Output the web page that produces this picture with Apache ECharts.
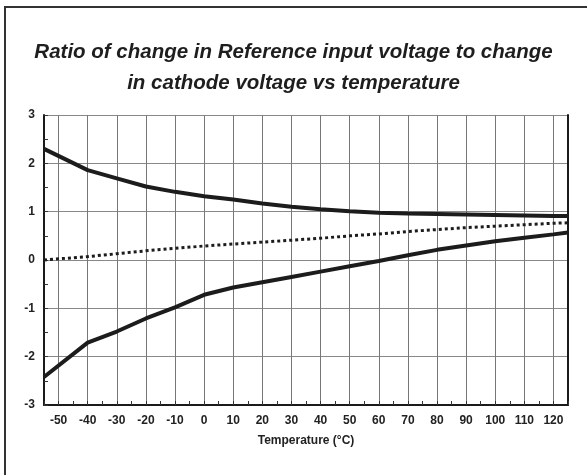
<!DOCTYPE html>
<html>
<head>
<meta charset="utf-8">
<script src="https://cdn.jsdelivr.net/npm/echarts@6/dist/echarts.min.js"></script>
<style>
  html, body { margin: 0; padding: 0; background: #fff; }
  #chart { width: 587px; height: 475px; }
</style>
</head>
<body>
<div id="chart"></div>
<script>
// temperature points (°C)
const temperatures = [-55, -40, -30, -20, -10, 0, 10, 20, 30, 40, 50, 60, 70, 80, 90, 100, 110, 120, 125];
// upper limit curve
const upperRatio = [2.30, 1.86, 1.69, 1.52, 1.41, 1.32, 1.25, 1.17, 1.10, 1.05, 1.01, 0.98, 0.96, 0.95, 0.94, 0.93, 0.92, 0.91, 0.91];
// typical (dotted)
const typicalRatio = [0.00, 0.07, 0.13, 0.19, 0.24, 0.29, 0.33, 0.37, 0.41, 0.45, 0.50, 0.54, 0.59, 0.63, 0.67, 0.70, 0.73, 0.76, 0.77];
// lower limit curve
const lowerRatio = [-2.42, -1.71, -1.48, -1.21, -0.98, -0.72, -0.57, -0.46, -0.35, -0.24, -0.13, -0.02, 0.10, 0.21, 0.30, 0.39, 0.46, 0.53, 0.57];

const titleLines = [
  'Ratio of change in Reference input voltage to change',
  'in cathode voltage vs temperature'
];

const font = 'Liberation Sans, Arial, sans-serif';

function pairs(ys) {
  return temperatures.map((t, i) => [t, ys[i]]);
}

const chart = echarts.init(document.getElementById('chart'));

const titleStyle = {
  fontFamily: font,
  fontSize: 20.5,
  fontWeight: 'bold',
  fontStyle: 'italic',
  color: '#1e1e1e'
};

const labelStyle = { fontFamily: font, fontSize: 12, fontWeight: 'bold', color: '#222' };

const option = {
  animation: false,
  backgroundColor: '#fff',
  title: titleLines.map((t, i) => ({
    text: t,
    left: 'center',
    top: 42 + i * 31,
    padding: 0,
    textStyle: titleStyle
  })),
  graphic: [
    {
      type: 'rect',
      shape: { x: 5, y: 7, width: 620, height: 520 },
      style: { fill: 'none', stroke: '#333', lineWidth: 2 },
      silent: true
    }
  ],
  grid: { left: 44, right: 19, top: 115, bottom: 70 },
  xAxis: {
    type: 'value',
    min: -55,
    max: 125,
    interval: 5,
    name: 'Temperature (°C)',
    nameLocation: 'middle',
    nameGap: 30,
    nameTextStyle: labelStyle,
    axisLine: { onZero: false, lineStyle: { color: '#1a1a1a', width: 2 } },
    axisTick: { inside: true, length: 4, lineStyle: { color: '#333' } },
    axisLabel: Object.assign({
      formatter: v => (v % 10 === 0 ? String(v) : ''),
      margin: 10
    }, labelStyle),
    splitLine: { show: true, lineStyle: { color: ['rgba(0,0,0,0)', '#777'], width: 1 } }
  },
  yAxis: [
    {
      type: 'value',
      position: 'left',
      min: -3,
      max: 3,
      interval: 1,
      axisLine: { show: true, onZero: false, lineStyle: { color: '#1a1a1a', width: 2 } },
      axisTick: { show: true, inside: true, length: 4, lineStyle: { color: '#333' } },
      minorTick: { show: true, splitNumber: 2, length: 4, lineStyle: { color: '#333' } },
      axisLabel: Object.assign({ margin: 9 }, labelStyle),
      splitLine: { show: true, lineStyle: { color: '#888', width: 1 } }
    },
    {
      type: 'value',
      position: 'right',
      min: -3,
      max: 3,
      interval: 1,
      axisLine: { show: true, onZero: false, lineStyle: { color: '#1a1a1a', width: 2 } },
      axisTick: { show: false },
      axisLabel: { show: false },
      splitLine: { show: false }
    }
  ],
  series: [
    {
      name: 'upper',
      type: 'line',
      data: pairs(upperRatio),
      symbol: 'none',
      lineStyle: { color: '#1c1c1c', width: 4 }
    },
    {
      name: 'typical',
      type: 'line',
      data: pairs(typicalRatio),
      symbol: 'none',
      lineStyle: { color: '#1c1c1c', width: 3, type: [3, 3] }
    },
    {
      name: 'lower',
      type: 'line',
      data: pairs(lowerRatio),
      symbol: 'none',
      lineStyle: { color: '#1c1c1c', width: 4 }
    }
  ]
};

chart.setOption(option);
</script>
</body>
</html>
